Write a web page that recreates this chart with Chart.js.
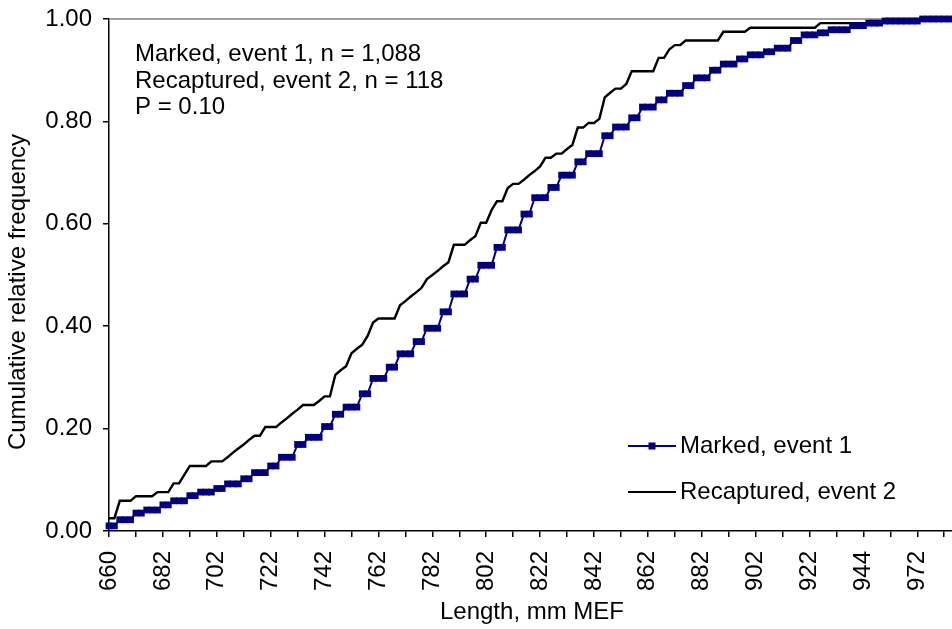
<!DOCTYPE html>
<html>
<head>
<meta charset="utf-8">
<script src="https://cdn.jsdelivr.net/npm/chart.js@4.4.0/dist/chart.umd.min.js"></script>
<style>
html, body { margin: 0; padding: 0; background: #fff; overflow: hidden; }
#wrap { width: 960px; height: 629px; }
</style>
</head>
<body>
<div id="wrap"><canvas id="c" width="960" height="629"></canvas></div>
<script>
"use strict";

// x axis: one slot per length class, a label every 10th class
var TICK_LABELS = ["660", "682", "702", "722", "742", "762", "782", "802",
                   "822", "842", "862", "882", "902", "922", "944", "972"];

// cumulative relative frequency, marked fish (event 1), one value per length class
var MARKED_CUM = [
  0.010, 0.010, 0.022, 0.022, 0.022, 0.035, 0.035, 0.041, 0.041, 0.041,
  0.051, 0.051, 0.059, 0.059, 0.059, 0.069, 0.069, 0.076, 0.076, 0.076,
  0.083, 0.083, 0.092, 0.092, 0.092, 0.102, 0.102, 0.114, 0.114, 0.114,
  0.127, 0.127, 0.144, 0.144, 0.144, 0.169, 0.169, 0.183, 0.183, 0.183,
  0.204, 0.204, 0.228, 0.228, 0.242, 0.242, 0.242, 0.268, 0.268, 0.298,
  0.298, 0.298, 0.320, 0.320, 0.346, 0.346, 0.346, 0.370, 0.370, 0.396,
  0.396, 0.396, 0.428, 0.428, 0.463, 0.463, 0.463, 0.492, 0.492, 0.519,
  0.519, 0.519, 0.554, 0.554, 0.588, 0.588, 0.588, 0.619, 0.619, 0.651,
  0.651, 0.651, 0.671, 0.671, 0.695, 0.695, 0.695, 0.721, 0.721, 0.737,
  0.737, 0.737, 0.772, 0.772, 0.789, 0.789, 0.789, 0.807, 0.807, 0.828,
  0.828, 0.828, 0.842, 0.842, 0.855, 0.855, 0.855, 0.870, 0.870, 0.885,
  0.885, 0.885, 0.900, 0.900, 0.912, 0.912, 0.912, 0.922, 0.922, 0.930,
  0.930, 0.930, 0.936, 0.936, 0.943, 0.943, 0.943, 0.958, 0.958, 0.969,
  0.969, 0.969, 0.973, 0.973, 0.979, 0.979, 0.979, 0.979, 0.987, 0.987,
  0.987, 0.992, 0.992, 0.992, 0.996, 0.996, 0.996, 0.996, 0.996, 0.996,
  0.996, 1.000, 1.000, 1.000, 1.000, 1.000, 1.000, 1.000
];

// cumulative relative frequency, recaptured fish (event 2)
var RECAP_CUM = [
  0.025, 0.025, 0.059, 0.059, 0.059, 0.068, 0.068, 0.068, 0.068, 0.076,
  0.076, 0.076, 0.093, 0.093, 0.110, 0.127, 0.127, 0.127, 0.127, 0.136,
  0.136, 0.136, 0.144, 0.153, 0.161, 0.169, 0.178, 0.186, 0.186, 0.203,
  0.203, 0.203, 0.212, 0.220, 0.229, 0.237, 0.246, 0.246, 0.246, 0.254,
  0.263, 0.263, 0.305, 0.314, 0.322, 0.347, 0.356, 0.364, 0.381, 0.407,
  0.415, 0.415, 0.415, 0.415, 0.441, 0.449, 0.458, 0.466, 0.475, 0.492,
  0.500, 0.508, 0.517, 0.525, 0.559, 0.559, 0.559, 0.568, 0.576, 0.602,
  0.602, 0.627, 0.644, 0.644, 0.670, 0.678, 0.678, 0.686, 0.695, 0.703,
  0.712, 0.729, 0.729, 0.737, 0.737, 0.746, 0.754, 0.788, 0.788, 0.797,
  0.797, 0.805, 0.847, 0.856, 0.864, 0.864, 0.873, 0.898, 0.898, 0.898,
  0.898, 0.898, 0.924, 0.924, 0.941, 0.949, 0.949, 0.958, 0.958, 0.958,
  0.958, 0.958, 0.958, 0.958, 0.975, 0.975, 0.975, 0.975, 0.975, 0.983,
  0.983, 0.983, 0.983, 0.983, 0.983, 0.983, 0.983, 0.983, 0.983, 0.983,
  0.983, 0.983, 0.992, 0.992, 0.992, 0.992, 0.992, 0.992, 0.992, 0.992,
  0.992, 0.992, 0.992, 0.992, 1.000, 1.000, 1.000, 1.000, 1.000, 1.000,
  1.000, 1.000, 1.000, 1.000, 1.000, 1.000, 1.000, 1.000
];

var SERIES_NAMES = ["Marked, event 1", "Recaptured, event 2"];
var NOTE_LINES = ["Marked, event 1, n = 1,088", "Recaptured, event 2, n = 118", "P = 0.10"];
var Y_TITLE = "Cumulative relative frequency";

var NAVY = "#000080";
var FONT = '"Liberation Sans", Arial, sans-serif';
var FS = 24;

function toXY(arr) {
  return arr.map(function(v, i) { return { x: i, y: v }; });
}

// top frame line, y title, text box and legend drawn straight on the canvas
var overlay = {
  id: "overlay",
  beforeDatasetsDraw: function(chart) {
    var c = chart.ctx, a = chart.chartArea;
    c.save();
    c.strokeStyle = "#808080";
    c.lineWidth = 1.5;
    c.beginPath();
    c.moveTo(a.left, a.top);
    c.lineTo(chart.width, a.top);
    c.stroke();
    c.restore();
  },
  afterDatasetsDraw: function(chart) {
    var c = chart.ctx;
    c.save();
    c.fillStyle = "#000";
    c.font = FS + "px " + FONT;

    // y axis title, sits a little below the plot centre in the original
    c.save();
    c.translate(18, 292);
    c.rotate(-Math.PI / 2);
    c.textAlign = "center";
    c.textBaseline = "middle";
    c.fillText(Y_TITLE, 0, 0);
    c.restore();

    c.textBaseline = "alphabetic";
    c.textAlign = "left";
    for (var i = 0; i < NOTE_LINES.length; i++) {
      c.fillText(NOTE_LINES[i], 135, 61 + i * 26.6);
    }

    // legend
    var rows = [446, 492];
    var cols = [NAVY, "#000"];
    for (var k = 0; k < 2; k++) {
      c.strokeStyle = cols[k];
      c.lineWidth = 2;
      c.beginPath();
      c.moveTo(628, rows[k]);
      c.lineTo(676, rows[k]);
      c.stroke();
      if (k === 0) {
        c.fillStyle = NAVY;
        c.fillRect(652 - 3.5, rows[k] - 3.5, 7, 7);
      }
      c.fillStyle = "#000";
      c.textBaseline = "middle";
      c.fillText(SERIES_NAMES[k], 680, rows[k]);
    }
    c.restore();
  }
};

new Chart(document.getElementById("c").getContext("2d"), {
  type: "line",
  data: {
    datasets: [
      {
        label: SERIES_NAMES[0],
        data: toXY(MARKED_CUM),
        borderColor: NAVY,
        backgroundColor: NAVY,
        borderWidth: 2,
        pointStyle: "rect",
        pointRadius: 4.8,
        pointBackgroundColor: NAVY,
        pointBorderColor: NAVY,
        pointBorderWidth: 0,
        tension: 0,
        clip: false
      },
      {
        label: SERIES_NAMES[1],
        data: toXY(RECAP_CUM),
        borderColor: "#000",
        borderWidth: 2.4,
        pointRadius: 0,
        tension: 0,
        clip: false
      }
    ]
  },
  options: {
    responsive: false,
    animation: false,
    layout: { padding: { top: 19, right: 5, left: 0, bottom: 0 } },
    plugins: { legend: { display: false }, tooltip: { enabled: false } },
    scales: {
      x: {
        type: "linear",
        min: 0,
        max: MARKED_CUM.length - 1,
        afterFit: function(s) {
          s.height = 98;
          s.paddingLeft = 0;
          s.paddingRight = 0;
        },
        afterBuildTicks: function(s) {
          var t = [];
          for (var v = 0; v <= s.max; v += 5) t.push({ value: v });
          s.ticks = t;
        },
        border: { color: "#000", width: 1.5 },
        grid: { drawOnChartArea: false, color: "#000", lineWidth: 1.5, tickLength: 6 },
        ticks: {
          autoSkip: false,
          maxRotation: 90,
          minRotation: 90,
          padding: 14,
          color: "#000",
          font: { family: FONT, size: FS },
          callback: function(v) { return v % 10 === 0 ? TICK_LABELS[v / 10] : ""; }
        },
        title: {
          display: true,
          text: "Length, mm MEF",
          color: "#000",
          font: { family: FONT, size: FS },
          padding: { top: 0, bottom: 2 }
        }
      },
      y: {
        min: 0,
        max: 1,
        afterFit: function(s) {
          s.width = 109;
          s.paddingTop = 0;
          s.paddingBottom = 0;
        },
        border: { color: "#000", width: 1.5 },
        grid: { drawOnChartArea: false, color: "#000", lineWidth: 1.5, tickLength: 6 },
        ticks: {
          stepSize: 0.2,
          padding: 11,
          color: "#000",
          font: { family: FONT, size: FS },
          callback: function(v) { return v.toFixed(2); }
        }
      }
    }
  },
  plugins: [overlay]
});
</script>
</body>
</html>
